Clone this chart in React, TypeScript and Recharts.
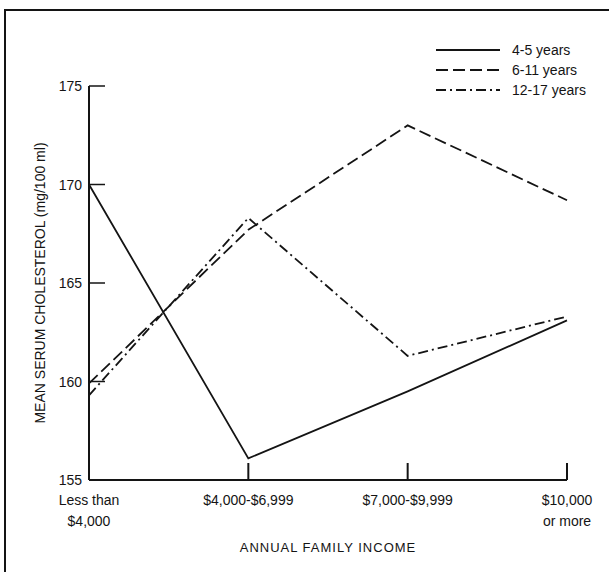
import React from "react";
import { LineChart, Line, XAxis, YAxis, Legend } from "recharts";

// Income groups (line breaks marked with "|")
const incomeGroups = [
  "Less than|$4,000",
  "$4,000-$6,999",
  "$7,000-$9,999",
  "$10,000|or more",
];

// Mean serum cholesterol (mg/100 ml) by age group
const age4to5 = [170.0, 156.1, 159.5, 163.1];
const age6to11 = [159.9, 167.7, 173.0, 169.2];
const age12to17 = [159.3, 168.3, 161.3, 163.3];

const yTicks = [155, 160, 165, 170, 175];

const data = incomeGroups.map((g, i) => ({
  group: g,
  a: age4to5[i],
  b: age6to11[i],
  c: age12to17[i],
}));

const INK = "#141414";
const FONT = "'Liberation Sans', Arial, Helvetica, sans-serif";

const XTick = (props: any) => {
  const { x, y, payload } = props;
  const lines = String(payload.value).split("|");
  return (
    <g>
      <line x1={x} y1={y} x2={x} y2={y - 17} stroke={INK} strokeWidth={2} />
      <text x={x} y={y} textAnchor="middle" fill={INK} fontSize={14} fontFamily={FONT}>
        {lines.map((l, i) => (
          <tspan key={i} x={x} dy={i === 0 ? 25 : 21}>
            {l}
          </tspan>
        ))}
      </text>
    </g>
  );
};

const YTick = (props: any) => {
  const { x, y, payload } = props;
  return (
    <g>
      <line x1={x} y1={y} x2={x + 16} y2={y} stroke={INK} strokeWidth={1.5} />
      <text x={x - 7} y={y} dy={5} textAnchor="end" fill={INK} fontSize={14} fontFamily={FONT}>
        {payload.value}
      </text>
    </g>
  );
};

const LegendBox = (props: any) => {
  const { payload } = props;
  return (
    <svg width={180} height={62}>
      {(payload || []).map((entry: any, i: number) => (
        <g key={i}>
          <line
            x1={6}
            y1={10 + i * 20}
            x2={70}
            y2={10 + i * 20}
            stroke={INK}
            strokeWidth={1.8}
            strokeDasharray={entry.payload?.strokeDasharray}
          />
          <text x={82} y={15 + i * 20} fill={INK} fontSize={14} fontFamily={FONT}>
            {entry.value}
          </text>
        </g>
      ))}
    </svg>
  );
};

export default function App() {
  return (
    <div
      style={{
        position: "absolute",
        left: 0,
        top: 0,
        width: 609,
        height: 572,
        background: "#fff",
        overflow: "hidden",
      }}
    >
      <div
        style={{
          position: "absolute",
          left: 4,
          top: 9,
          width: 640,
          height: 600,
          borderLeft: `2px solid ${INK}`,
          borderTop: `2px solid ${INK}`,
        }}
      />
      <div style={{ position: "absolute", left: 0, top: 0 }}>
        <LineChart
          width={609}
          height={572}
          data={data}
          margin={{ top: 86, right: 42, bottom: 12, left: 29 }}
        >
          <XAxis
            dataKey="group"
            padding={{ left: 0, right: 0 }}
            tickSize={0}
            tickMargin={0}
            tick={<XTick />}
            axisLine={{ stroke: INK, strokeWidth: 2 }}
            height={80}
            interval={0}
            label={{
              value: "ANNUAL FAMILY INCOME",
              position: "insideBottom",
              offset: 8,
              fill: INK,
              fontSize: 13,
              fontFamily: FONT,
              letterSpacing: 1,
            }}
          />
          <YAxis
            domain={[155, 175]}
            ticks={yTicks}
            width={60}
            tickSize={0}
            tickMargin={0}
            tick={<YTick />}
            axisLine={{ stroke: INK, strokeWidth: 2 }}
            label={{
              value: "MEAN SERUM CHOLESTEROL (mg/100 ml)",
              angle: -90,
              position: "insideLeft",
              offset: 11,
              fill: INK,
              fontSize: 14,
              fontFamily: FONT,
              style: { textAnchor: "middle" },
            }}
          />
          <Legend
            layout="horizontal"
            verticalAlign="middle"
            align="center"
            itemSorter="dataKey"
            content={<LegendBox />}
            wrapperStyle={{ position: "absolute", left: 430, top: 40, width: 180, bottom: "auto", right: "auto" }}
          />
          <Line
            name="4-5 years"
            dataKey="a"
            stroke={INK}
            strokeWidth={1.8}
            dot={false}
            isAnimationActive={false}
          />
          <Line
            name="6-11 years"
            dataKey="b"
            stroke={INK}
            strokeWidth={1.8}
            strokeDasharray="12 5"
            dot={false}
            isAnimationActive={false}
          />
          <Line
            name="12-17 years"
            dataKey="c"
            stroke={INK}
            strokeWidth={1.8}
            strokeDasharray="10 4 2 4"
            dot={false}
            isAnimationActive={false}
          />
        </LineChart>
      </div>
    </div>
  );
}
